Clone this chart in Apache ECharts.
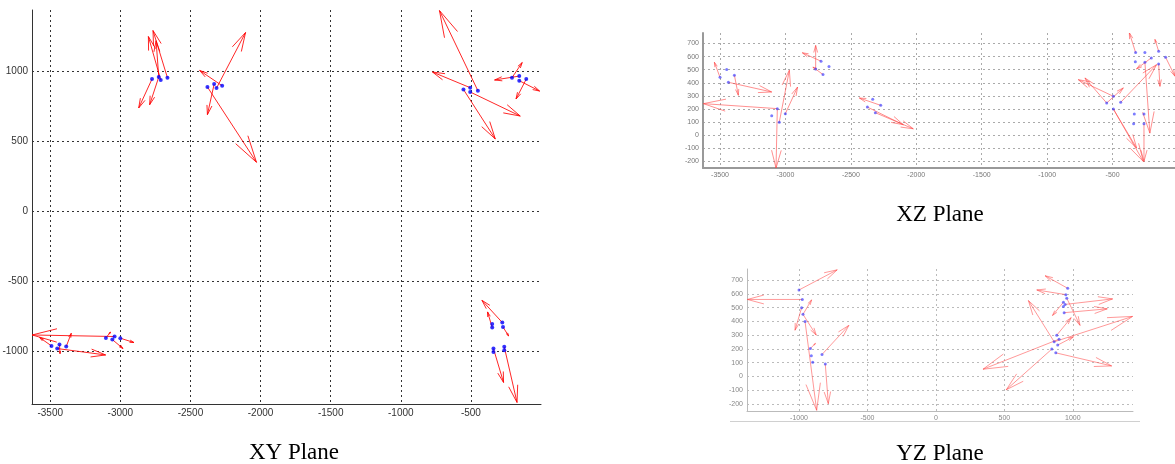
<!DOCTYPE html>
<html>
<head>
<meta charset="utf-8">
<script src="https://cdn.jsdelivr.net/npm/echarts@6/dist/echarts.min.js"></script>
<style>
  html, body { margin: 0; padding: 0; background: #fff; }
  #chart { width: 1175px; height: 464px; }
</style>
</head>
<body>
<div id="chart"></div>
<script>
// tick labels
const xTicksX = [-3500, -3000, -2500, -2000, -1500, -1000, -500];
const xyTicksY = [-1000, -500, 0, 500, 1000];
const zTicks = [-200, -100, 0, 100, 200, 300, 400, 500, 600, 700];
const yzTicksY = [-1000, -500, 0, 500, 1000];

// XY plane: points [x, y], arrows [x0, y0, x1, y1]
const xyPoints = [
  [-2774, 946], [-2726, 960], [-2712, 939], [-2664, 955],
  [-2379, 889], [-2331, 910], [-2314, 881], [-2274, 898],
  [-553, 871], [-505, 884], [-505, 853], [-450, 862],
  [-207, 955], [-155, 967], [-155, 934], [-105, 946],
  [-3491, -964], [-3450, -983], [-3434, -954], [-3386, -969],
  [-3103, -907], [-3057, -919], [-3041, -897], [-3000, -909],
  [-348, -807], [-348, -833], [-276, -797], [-271, -829],
  [-339, -983], [-339, -1007], [-262, -971], [-262, -995]
];
const xyArrows = [
  [-2664, 955, -2767, 1293], [-2712, 939, -2800, 1250], [-2726, 960, -2745, 1220],
  [-2774, 946, -2869, 739], [-2726, 960, -2791, 762],
  [-2314, 881, -2107, 1279], [-2274, 898, -2434, 1007],
  [-2331, 910, -2379, 691], [-2379, 889, -2029, 350],
  [-450, 862, -724, 1436], [-505, 884, -774, 996],
  [-505, 853, -148, 681], [-553, 871, -326, 517],
  [-207, 955, -134, 1064], [-155, 967, -331, 939],
  [-155, 934, -10, 860], [-105, 946, -178, 803],
  [-3041, -897, -3629, -886], [-3386, -969, -3350, -874],
  [-3450, -983, -3105, -1029], [-3491, -964, -3576, -904],
  [-3434, -954, -3430, -1020], [-3000, -909, -2903, -940],
  [-3057, -919, -2981, -983], [-3103, -907, -3070, -865],
  [-276, -797, -421, -638], [-348, -833, -381, -721],
  [-271, -829, -231, -893], [-339, -983, -267, -1226],
  [-262, -971, -171, -1369]
];

// XZ plane
const xzPoints = [
  [-3500, 442], [-3449, 501], [-3390, 458], [-3436, 404],
  [-3105, 149], [-3062, 203], [-3047, 100], [-3001, 164],
  [-2769, 506], [-2728, 565], [-2713, 463], [-2667, 524],
  [-2374, 215], [-2333, 274], [-2313, 172], [-2272, 228],
  [-545, 246], [-494, 297], [-494, 200], [-438, 251],
  [-326, 560], [-324, 631], [-253, 631], [-253, 557],
  [-334, 162], [-339, 88], [-260, 162], [-260, 88],
  [-204, 590], [-148, 641], [-148, 544], [-95, 595]
];
const xzArrows = [
  [-3500, 442, -3543, 557], [-3436, 404, -3105, 330], [-3390, 458, -3360, 305],
  [-3062, 203, -3627, 241], [-3062, 203, -3072, -251],
  [-3047, 100, -2970, 496], [-3001, 164, -2907, 368],
  [-2728, 565, -2871, 629], [-2769, 506, -2769, 685], [-2713, 463, -2790, 520],
  [-2272, 228, -2435, 284], [-2313, 172, -2023, 49], [-2374, 215, -2099, 80],
  [-494, 297, -762, 424], [-545, 246, -711, 437], [-494, 200, -265, -200],
  [-438, 251, -163, 539], [-545, 246, -418, 361], [-494, 200, -316, -98],
  [-324, 631, -372, 782], [-253, 557, -215, 16], [-260, 88, -260, -200],
  [-148, 641, -176, 731], [-95, 595, -23, 450], [-148, 544, -138, 373],
  [-204, 590, -317, 506]
];

// YZ plane
const yzPoints = [
  [-1000, 628], [-976, 559], [-981, 499], [-971, 451], [-956, 400],
  [-917, 204], [-910, 151], [-900, 103], [-832, 160], [-808, 91],
  [963, 640], [949, 594], [956, 568], [932, 539], [944, 523], [932, 508],
  [937, 463], [883, 300], [900, 271], [864, 252], [890, 228], [847, 199], [876, 172]
];
const yzArrows = [
  [-1000, 628, -721, 774], [-976, 559, -1377, 559], [-971, 451, -908, 556],
  [-981, 499, -1029, 336], [-971, 451, -874, 300], [-956, 400, -871, -245],
  [-832, 160, -636, 371], [-808, 91, -786, -197], [-917, 204, -880, 240],
  [963, 640, 798, 731], [949, 594, 737, 628], [932, 539, 852, 443],
  [944, 523, 1291, 563], [956, 568, 1053, 371], [937, 463, 1252, 491],
  [864, 252, 676, 551], [864, 252, 1437, 436], [900, 271, 344, 53],
  [847, 199, 514, -96], [876, 172, 1284, 77], [890, 228, 1005, 288],
  [883, 300, 988, 427]
];

// quiver style arrow drawn from data coords
function arrowRender(color, width) {
  return function (params, api) {
    const p0 = api.coord([api.value(0), api.value(1)]);
    const p1 = api.coord([api.value(2), api.value(3)]);
    const dx = p1[0] - p0[0], dy = p1[1] - p0[1];
    const a = 0.3, b = 0.27;
    const h1 = [p1[0] - a * (dx + b * dy), p1[1] - a * (dy - b * dx)];
    const h2 = [p1[0] - a * (dx - b * dy), p1[1] - a * (dy + b * dx)];
    return {
      type: 'group',
      children: [
        { type: 'line', shape: { x1: p0[0], y1: p0[1], x2: p1[0], y2: p1[1] },
          style: { stroke: color, lineWidth: width } },
        { type: 'polyline', shape: { points: [h1, p1, h2] },
          style: { stroke: color, fill: null, lineWidth: width } }
      ]
    };
  };
}

function valAxis(idx, min, max, ticks, opt) {
  return {
    type: 'value', gridIndex: idx, min: min, max: max,
    axisLine: { show: true, onZero: false, lineStyle: { color: opt.axis, width: opt.axisW || 1 } },
    axisTick: { show: true, inside: true, length: 0, customValues: ticks },
    axisLabel: { customValues: ticks, fontSize: opt.font, color: opt.label,
      fontFamily: 'Liberation Sans', margin: opt.margin || 5,
      formatter: function (v) { return String(v); } },
    splitLine: { show: true, lineStyle: { color: opt.grid, type: [2, 3], width: 1 } }
  };
}

const xyStyle = { axis: '#333', label: '#333', grid: '#333', font: 10, margin: 4 };
const xzStyle = { axis: '#999', axisW: 2, label: '#777', grid: '#aaa', font: 7, margin: 4 };
const yzStyle = { axis: '#bbb', label: '#888', grid: '#bbb', font: 7, margin: 4 };

const chart = echarts.init(document.getElementById('chart'));
const titleFont = { fontFamily: 'Liberation Serif', fontSize: 23, fontWeight: 'normal', color: '#000' };

chart.setOption({
  animation: false,
  title: [
    { text: 'XY Plane', left: 289, top: 436, textAlign: 'center', textStyle: titleFont },
    { text: 'XZ Plane', left: 935, top: 198, textAlign: 'center', textStyle: titleFont },
    { text: 'YZ Plane', left: 935, top: 437, textAlign: 'center', textStyle: titleFont }
  ],
  grid: [
    { left: 32, right: 634, top: 10, bottom: 60, outerBoundsMode: 'none' },
    { left: 703, right: -3, top: 33, bottom: 296, outerBoundsMode: 'none' },
    { left: 747, right: 42, top: 269, bottom: 53, outerBoundsMode: 'none' }
  ],
  graphic: [
    { type: 'line', shape: { x1: 730, y1: 421.5, x2: 1140, y2: 421.5 },
      style: { stroke: '#d0d0d0', lineWidth: 1 } }
  ],
  xAxis: [
    valAxis(0, -3630, 0, xTicksX, xyStyle),
    valAxis(1, -3630, 0, xTicksX, xzStyle),
    valAxis(2, -1380, 1440, yzTicksY, yzStyle)
  ],
  yAxis: [
    valAxis(0, -1380, 1440, xyTicksY, xyStyle),
    valAxis(1, -250, 780, zTicks, xzStyle),
    valAxis(2, -250, 780, zTicks, yzStyle)
  ],
  series: [
    { type: 'custom', xAxisIndex: 0, yAxisIndex: 0, clip: true,
      renderItem: arrowRender('rgba(255,0,0,0.85)', 1), data: xyArrows, encode: { x: [0, 2], y: [1, 3] } },
    { type: 'scatter', xAxisIndex: 0, yAxisIndex: 0, symbolSize: 4,
      itemStyle: { color: '#0000ff' }, data: xyPoints },
    { type: 'custom', xAxisIndex: 1, yAxisIndex: 1, clip: true,
      renderItem: arrowRender('rgba(255,70,70,0.6)', 1), data: xzArrows, encode: { x: [0, 2], y: [1, 3] } },
    { type: 'scatter', xAxisIndex: 1, yAxisIndex: 1, symbolSize: 3,
      itemStyle: { color: 'rgba(50,50,255,0.8)' }, data: xzPoints },
    { type: 'custom', xAxisIndex: 2, yAxisIndex: 2, clip: true,
      renderItem: arrowRender('rgba(255,70,70,0.55)', 1), data: yzArrows, encode: { x: [0, 2], y: [1, 3] } },
    { type: 'scatter', xAxisIndex: 2, yAxisIndex: 2, symbolSize: 3,
      itemStyle: { color: 'rgba(50,50,255,0.8)' }, data: yzPoints }
  ]
});
</script>
</body>
</html>
